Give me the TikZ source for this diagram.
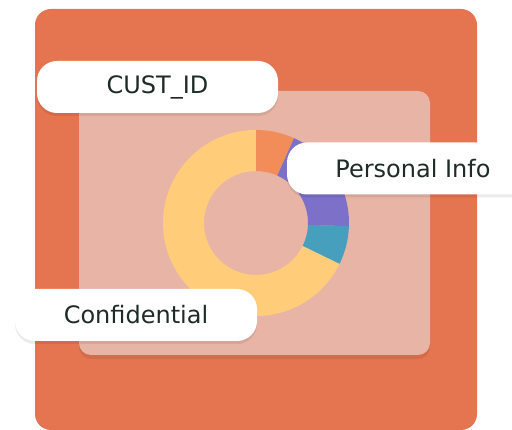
\documentclass[tikz,border=0pt]{standalone}
\usepackage{fontspec}
\setmainfont{DejaVu Sans}
\usepackage{tikz}
\usetikzlibrary{shadows}
\definecolor{outerbg}{RGB}{229,116,80}
\definecolor{innerbg}{RGB}{232,180,166}
\definecolor{segorange}{RGB}{242,140,88}
\definecolor{segpurple}{RGB}{124,112,200}
\definecolor{segteal}{RGB}{71,159,190}
\definecolor{segyellow}{RGB}{255,205,122}
\definecolor{labeltext}{RGB}{31,43,39}
\tikzstyle{pill} = [fill=white, rounded corners=20pt, minimum height=52pt, inner sep=0pt, text=labeltext, font=\fontsize{24}{29}\selectfont, drop shadow={shadow xshift=0pt, shadow yshift=-3pt, opacity=0.08, fill=black}]
\tikzstyle{panel} = [fill=innerbg, rounded corners=12pt, drop shadow={shadow xshift=0pt, shadow yshift=-4pt, opacity=0.07, fill=black}]
\newcommand{\ringpart}[3]{\fill[#1] (#2:93pt) arc[start angle=#2, end angle=#3, radius=93pt] -- (#3:52pt) arc[start angle=#3, end angle=#2, radius=52pt] -- cycle;}

\begin{document}
\begin{tikzpicture}[x=1pt,y=-1pt]
	\useasboundingbox (0,0) rectangle (512,430);
	\clip (0,0) rectangle (512,430);

	% background cards
	\fill[outerbg, rounded corners=16pt] (35,9) rectangle (477,430);
	\path[panel] (79,91) rectangle (430,355);

	% donut chart
	\begin{scope}[shift={(256,223)}, y=1pt]
		\ringpart{segyellow}{90}{334}
		\ringpart{segteal}{-26}{-2}
		\ringpart{segpurple}{-2}{66}
		\ringpart{segorange}{66}{90}
	\end{scope}

	% labels
	\node [pill, minimum width=241pt] (custid) at (157.5,87) {CUST\_ID};
	\node [pill, minimum width=252pt] (personal) at (413,168.5) {Personal Info};
	\node [pill, minimum width=242pt] (confid) at (136,315) {Confidential};
\end{tikzpicture}
\end{document}
